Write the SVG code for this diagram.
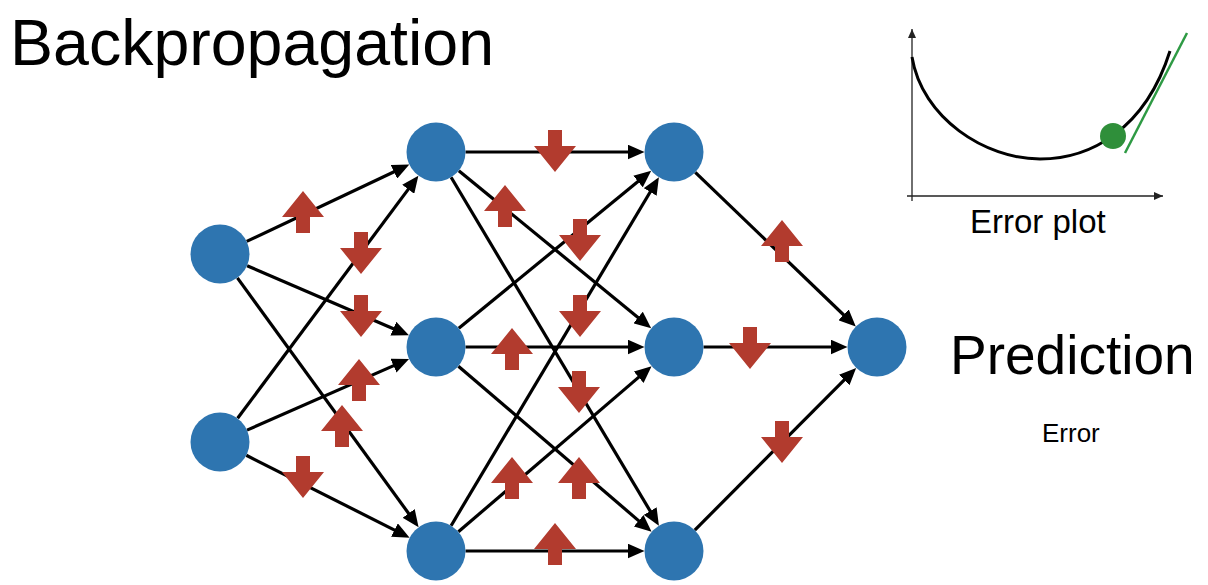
<svg xmlns="http://www.w3.org/2000/svg" width="1208" height="585" viewBox="0 0 1208 585">
<style>
.node{fill:#2e75b0}
.edge{stroke:#000;stroke-width:3.2;fill:none;marker-end:url(#ah)}
.grad{fill:#b23b2e}
.txt{font-family:"Liberation Sans",Arial,sans-serif;fill:#000}
.axis{stroke:#222;stroke-width:1.3;fill:none}
</style>
<defs>
<marker id="ah" markerUnits="userSpaceOnUse" markerWidth="17" markerHeight="15" viewBox="0 0 17 15" refX="9" refY="7.5" orient="auto">
<path d="M0,0 L17,7.5 L0,15 Z" fill="#000"/>
</marker>
<marker id="axh" markerUnits="userSpaceOnUse" markerWidth="9" markerHeight="8" viewBox="0 0 9 8" refX="9" refY="4" orient="auto">
<path d="M0,0 L9,4 L0,8 Z" fill="#222"/>
</marker>
<path id="up" d="M0,-21 L21,5 L7,5 L7,21 L-7,21 L-7,5 L-21,5 Z"/>
<path id="down" d="M0,21 L21,-5 L7,-5 L7,-21 L-7,-21 L-7,-5 L-21,-5 Z"/>
</defs>
<rect width="1208" height="585" fill="#fff"/>
<text class="txt" x="10" y="65" font-size="64.5">Backpropagation</text>
<g id="connectors">
<line class="edge" x1="246.7" y1="241.4" x2="402.1" y2="168.0"/>
<line class="edge" x1="247.1" y1="265.7" x2="401.6" y2="332.2"/>
<line class="edge" x1="237.4" y1="277.9" x2="413.9" y2="520.7"/>
<line class="edge" x1="237.6" y1="418.3" x2="413.6" y2="182.1"/>
<line class="edge" x1="247.0" y1="430.1" x2="401.7" y2="362.1"/>
<line class="edge" x1="246.3" y1="455.3" x2="402.5" y2="534.1"/>
<line class="edge" x1="465.5" y1="152" x2="636.5" y2="152"/>
<line class="edge" x1="458.8" y1="170.7" x2="645.0" y2="323.2"/>
<line class="edge" x1="451.1" y1="177.3" x2="654.8" y2="518.8"/>
<line class="edge" x1="458.8" y1="328.3" x2="645.0" y2="175.8"/>
<line class="edge" x1="465.5" y1="347" x2="636.5" y2="347"/>
<line class="edge" x1="458.4" y1="366.2" x2="645.5" y2="526.6"/>
<line class="edge" x1="451.1" y1="525.7" x2="654.8" y2="184.2"/>
<line class="edge" x1="458.4" y1="531.8" x2="645.5" y2="371.4"/>
<line class="edge" x1="465.5" y1="551" x2="636.5" y2="551"/>
<line class="edge" x1="695.3" y1="172.4" x2="850.0" y2="321.0"/>
<line class="edge" x1="703.5" y1="347" x2="839.5" y2="347"/>
<line class="edge" x1="694.8" y1="530.1" x2="850.5" y2="373.6"/>
</g>
<g id="gradients" class="grad">
<use href="#up" x="303" y="212"/>
<use href="#down" x="361" y="253"/>
<use href="#down" x="361" y="316"/>
<use href="#up" x="359" y="380"/>
<use href="#up" x="342" y="426"/>
<use href="#down" x="303" y="477"/>
<use href="#down" x="555" y="151"/>
<use href="#up" x="505" y="206"/>
<use href="#down" x="580" y="240"/>
<use href="#down" x="580" y="316"/>
<use href="#up" x="512" y="349"/>
<use href="#down" x="579" y="392"/>
<use href="#up" x="512" y="478"/>
<use href="#up" x="579" y="478"/>
<use href="#up" x="555" y="544"/>
<use href="#up" x="782" y="241"/>
<use href="#down" x="750" y="348"/>
<use href="#down" x="782" y="442"/>
</g>
<g id="i1"><circle class="node" cx="220" cy="254" r="29.5"/></g>
<g id="i2"><circle class="node" cx="220" cy="442" r="29.5"/></g>
<g id="h1"><circle class="node" cx="436" cy="152" r="29.5"/></g>
<g id="h2"><circle class="node" cx="436" cy="347" r="29.5"/></g>
<g id="h3"><circle class="node" cx="436" cy="551" r="29.5"/></g>
<g id="g1"><circle class="node" cx="674" cy="152" r="29.5"/></g>
<g id="g2"><circle class="node" cx="674" cy="347" r="29.5"/></g>
<g id="g3"><circle class="node" cx="674" cy="551" r="29.5"/></g>
<g id="out"><circle class="node" cx="877" cy="347" r="29.5"/></g>
<text class="txt" x="950" y="374" font-size="55">Prediction</text>
<text class="txt" x="1042" y="442" font-size="26">Error</text>
<g id="errorplot">
<line class="axis" x1="912" y1="201" x2="912" y2="29" marker-end="url(#axh)"/>
<line class="axis" x1="907" y1="196" x2="1163" y2="196" marker-end="url(#axh)"/>
<path d="M912,57 C922,118 985,159 1040,159 C1090,159 1145,130 1170,51" fill="none" stroke="#000" stroke-width="3"/>
<circle cx="1113" cy="136" r="13" fill="#2f8f3a"/>
<line x1="1125" y1="153" x2="1187" y2="33" stroke="#2e9a44" stroke-width="2.5"/>
<text class="txt" x="970" y="233" font-size="33">Error plot</text>
</g>
</svg>
